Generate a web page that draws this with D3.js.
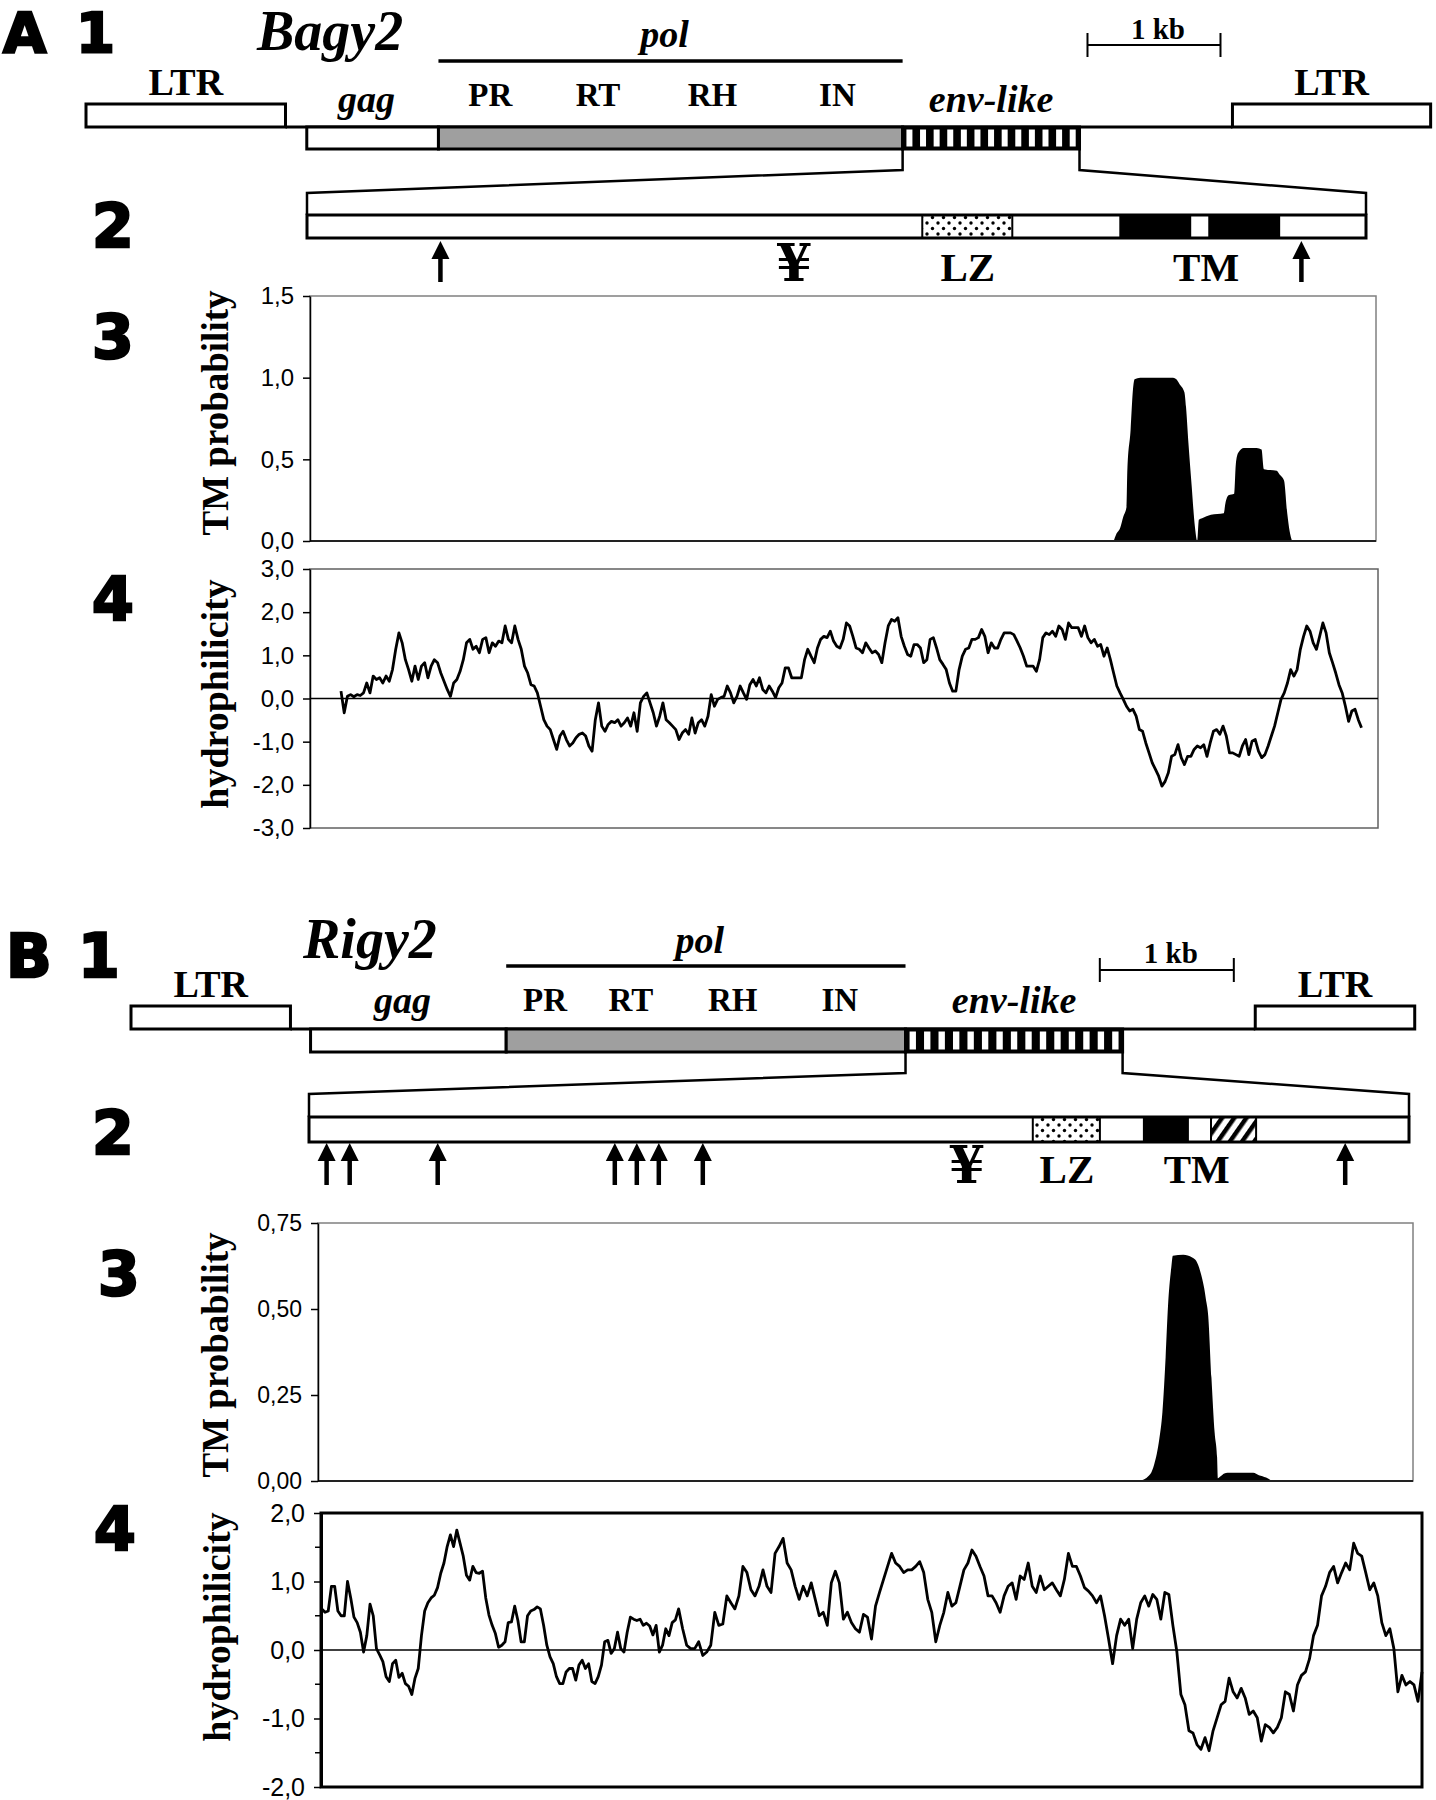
<!DOCTYPE html>
<html>
<head>
<meta charset="utf-8">
<script src="https://cdn.jsdelivr.net/npm/d3@7"></script>
<style>
  body { margin: 0; background: #fff; }
  svg { display: block; }
</style>
</head>
<body>
<svg id="fig"></svg>
<script>
// ---------- data ----------
// genome map, in kb from the left end of the left LTR
var featNames = ["LTR", "gag", "pol", "env-like", "LTR"];
var featKinds = ["ltr", "orf", "pol", "env", "ltr"];
var featStartA = [0, 1.66, 2.65, 6.14, 8.62];
var featEndA = [1.50, 2.65, 6.14, 7.47, 10.11];
var featStartB = [0, 1.34, 2.80, 5.78, 8.39];
var featEndB = [1.19, 2.80, 5.78, 7.40, 9.58];
var polDomains = ["PR", "RT", "RH", "IN"];
var polDomainPosA = [3.04, 3.85, 4.71, 5.65];
var polDomainPosB = [3.09, 3.73, 4.49, 5.29];
var scaleBarA = [7.53, 8.53];
var scaleBarB = [7.23, 8.23];

// env-like protein map, as fraction of its length
var envFeatA = [["LZ", 0.581, 0.666, "dots"], ["TM", 0.768, 0.834, "solid"], ["TM", 0.852, 0.918, "solid"]];
var envFeatB = [["LZ", 0.658, 0.719, "dots"], ["TM", 0.759, 0.799, "solid"], ["TM", 0.820, 0.861, "hatch"]];
var envLabelsA = [["LZ", 0.624], ["TM", 0.849]];
var envLabelsB = [["LZ", 0.689], ["TM", 0.807]];
var yenA = 0.460, yenB = 0.598;
var arrowsA = [0.126, 0.939];
var arrowsB = [0.016, 0.037, 0.117, 0.278, 0.298, 0.318, 0.358, 0.942];

// TM probability, [position, probability]
var tmA = [[962, 0], [965, 0.04], [970, 0.08], [974, 0.15], [978, 0.21], [979, 0.44], [983, 0.68], [986, 0.93],
  [988, 0.99], [995, 1.0], [1036, 1.0], [1040, 0.99], [1044, 0.96], [1050, 0.91], [1052, 0.82], [1055, 0.6],
  [1059, 0.34], [1063, 0.09], [1066, 0], [1068, 0.13], [1072, 0.14], [1083, 0.16], [1099, 0.17], [1101, 0.23],
  [1105, 0.28], [1112, 0.29], [1114, 0.47], [1117, 0.54], [1124, 0.57], [1140, 0.57], [1146, 0.56], [1149, 0.44],
  [1165, 0.43], [1168, 0.41], [1174, 0.37], [1178, 0.17], [1181, 0.06], [1184, 0]];
var tmB = [[1018, 0], [1031, 0.02], [1036, 0.05], [1042, 0.12], [1046, 0.2], [1050, 0.36], [1053, 0.51],
  [1057, 0.62], [1059, 0.655], [1072, 0.658], [1083, 0.65], [1088, 0.64], [1093, 0.61], [1098, 0.56],
  [1100, 0.53], [1103, 0.48], [1107, 0.3], [1111, 0.14], [1114, 0.07], [1115, 0.008], [1118, 0.013],
  [1123, 0.022], [1127, 0.024], [1159, 0.024], [1166, 0.017], [1175, 0.01], [1182, 0]];

// hydrophilicity profiles, one value every step positions
var hydroAStart = 0, hydroAStep = 4;
var hydroA = [
  0.17, -0.33, 0.05, 0.09, 0.04, 0.09, 0.07, 0.13, 0.36, 0.13,
  0.52, 0.44, 0.48, 0.36, 0.52, 0.40, 0.67, 1.14, 1.52, 1.29,
  0.90, 0.67, 0.40, 0.75, 0.44, 0.75, 0.83, 0.48, 0.75, 0.90,
  0.83, 0.59, 0.40, 0.21, 0.05, 0.36, 0.44, 0.63, 0.90, 1.29,
  1.37, 1.14, 1.21, 1.06, 1.37, 1.41, 1.06, 1.29, 1.21, 1.33,
  1.29, 1.68, 1.37, 1.29, 1.68, 1.37, 1.14, 0.75, 0.59, 0.32,
  0.29, 0.13, -0.18, -0.49, -0.64, -0.72, -0.95, -1.18, -0.87, -0.76,
  -0.95, -1.10, -1.03, -0.91, -0.83, -0.80, -0.87, -1.10, -1.22, -0.49,
  -0.10, -0.64, -0.76, -0.60, -0.53, -0.56, -0.49, -0.64, -0.56, -0.45,
  -0.64, -0.33, -0.76, -0.10, 0.05, 0.13, -0.10, -0.33, -0.64, -0.41,
  -0.10, -0.49, -0.56, -0.64, -0.72, -0.95, -0.80, -0.72, -0.83, -0.45,
  -0.80, -0.56, -0.49, -0.64, -0.41, 0.09, -0.18, -0.02, 0.02, 0.05,
  0.29, 0.13, -0.10, 0.05, 0.29, 0.13, -0.02, 0.32, 0.44, 0.29,
  0.48, 0.21, 0.13, 0.29, 0.17, 0.02, 0.25, 0.36, 0.71, 0.71,
  0.48, 0.48, 0.48, 0.48, 0.90, 1.14, 0.98, 0.83, 1.17, 1.37,
  1.44, 1.41, 1.56, 1.33, 1.21, 1.17, 1.37, 1.75, 1.68, 1.44,
  1.17, 1.14, 1.06, 1.29, 1.17, 1.06, 1.10, 1.02, 0.83, 1.29,
  1.68, 1.83, 1.79, 1.87, 1.44, 1.21, 1.02, 0.98, 1.25, 1.25,
  1.17, 0.83, 0.90, 1.37, 1.41, 1.17, 0.90, 0.79, 0.67, 0.36,
  0.17, 0.17, 0.67, 0.98, 1.14, 1.17, 1.37, 1.37, 1.41, 1.60,
  1.44, 1.06, 1.29, 1.17, 1.17, 1.37, 1.52, 1.52, 1.52, 1.48,
  1.33, 1.17, 0.98, 0.75, 0.75, 0.75, 0.63, 0.90, 1.41, 1.52,
  1.48, 1.56, 1.44, 1.68, 1.60, 1.37, 1.75, 1.64, 1.64, 1.64,
  1.44, 1.68, 1.41, 1.29, 1.37, 1.21, 1.25, 0.98, 1.17, 0.90,
  0.59, 0.29, 0.13, -0.02, -0.18, -0.29, -0.25, -0.41, -0.72, -0.76,
  -1.03, -1.26, -1.49, -1.64, -1.80, -2.03, -1.92, -1.72, -1.34, -1.30,
  -1.07, -1.37, -1.53, -1.34, -1.34, -1.18, -1.10, -1.14, -1.07, -1.34,
  -1.03, -0.76, -0.72, -0.83, -0.64, -0.87, -1.26, -1.26, -1.30, -1.34,
  -1.10, -0.95, -1.30, -0.99, -0.95, -1.22, -1.37, -1.30, -1.10, -0.87,
  -0.64, -0.33, -0.02, 0.13, 0.36, 0.67, 0.52, 0.67, 1.14, 1.44,
  1.68, 1.56, 1.29, 1.14, 1.44, 1.75, 1.52, 1.06, 0.83, 0.59,
  0.32, 0.13, -0.18, -0.53, -0.29, -0.25, -0.49, -0.68
];
var hydroB1Start = 0, hydroB1Step = 4;
var hydroB1 = [
  0.60, 0.55, 0.57, 0.93, 0.93, 0.57, 0.50, 0.50, 1.00, 0.76,
  0.48, 0.40, 0.26, -0.03, 0.21, 0.67, 0.50, 0.02, -0.07, -0.17,
  -0.39, -0.46, -0.20, -0.15, -0.40, -0.34, -0.49, -0.53, -0.65, -0.41,
  -0.27, 0.21, 0.57, 0.69, 0.76, 0.80, 0.91, 1.12, 1.27, 1.51,
  1.68, 1.51, 1.75, 1.56, 1.37, 1.09, 1.02, 1.22, 1.13, 1.12,
  1.15, 0.76, 0.51, 0.36, 0.24, 0.04, 0.07, 0.12, 0.40, 0.41,
  0.64, 0.43, 0.12, 0.12, 0.50, 0.57, 0.59, 0.63, 0.60, 0.36,
  0.07, -0.10, -0.20, -0.39, -0.49, -0.49, -0.32, -0.27, -0.27, -0.44,
  -0.22, -0.15, -0.27, -0.20, -0.46, -0.49, -0.39, -0.22, 0.12, 0.14,
  -0.05, 0.02, 0.26, 0.02, -0.03, 0.26, 0.48, 0.45, 0.43, 0.45,
  0.36, 0.39, 0.35, 0.22, 0.36, -0.03, 0.07, 0.31, 0.21, 0.40,
  0.44, 0.60
];
var hydroB2Start = 449, hydroB2Step = 5;
var hydroB2 = [
  0.31, 0.07, 0.02, 0.02, 0.12, -0.08, -0.03, 0.07, 0.55, 0.36,
  0.38, 0.79, 0.69, 0.60, 0.79, 1.22, 1.13, 0.88, 0.79, 0.93,
  1.17, 0.93, 0.84, 1.41, 1.51, 1.63, 1.27, 1.17, 0.93, 0.74,
  0.93, 0.79, 0.98, 0.74, 0.50, 0.55, 0.36, 0.98, 1.15, 0.98,
  0.45, 0.55, 0.40, 0.31, 0.26, 0.52, 0.48, 0.16, 0.64, 0.84,
  1.03, 1.22, 1.41, 1.27, 1.22, 1.13, 1.17, 1.17, 1.22, 1.29,
  1.13, 0.74, 0.55, 0.12, 0.36, 0.55, 0.84, 0.64, 0.69, 0.93,
  1.17, 1.27, 1.46, 1.37, 1.22, 1.08, 0.79, 0.79, 0.69, 0.55,
  0.79, 0.93, 0.98, 0.74, 1.08, 1.03, 1.27, 0.93, 0.84, 1.08,
  0.88, 0.93, 0.98, 0.88, 0.79, 1.03, 1.41, 1.22, 1.22, 1.08,
  0.91, 0.86, 0.79, 0.69, 0.79, 0.50, 0.16, -0.20, 0.21, 0.45,
  0.36, 0.45, 0.02, 0.45, 0.69, 0.79, 0.64, 0.81, 0.74, 0.45,
  0.84, 0.81, 0.36, -0.03, -0.65, -0.80, -1.18, -1.21, -1.38, -1.45,
  -1.28, -1.47, -1.18, -0.99, -0.80, -0.75, -0.41, -0.61, -0.70, -0.56,
  -0.70, -0.94, -0.89, -0.99, -1.33, -1.09, -1.13, -1.21, -1.13, -0.99,
  -0.61, -0.65, -0.89, -0.51, -0.37, -0.32, -0.13, 0.21, 0.36, 0.79,
  0.93, 1.13, 1.22, 0.98, 1.13, 1.27, 1.17, 1.56, 1.41, 1.37,
  1.13, 0.88, 0.98, 0.79, 0.40, 0.21, 0.31, 0.02, -0.61, -0.37,
  -0.51, -0.46, -0.51, -0.75, -0.32
];

var tmTicksA = [0, 0.5, 1.0, 1.5];
var tmTicksB = [0, 0.25, 0.5, 0.75];
var hydroTicksA = [-3, -2, -1, 0, 1, 2, 3];
var hydroTicksB = [-2, -1, 0, 1, 2];
var hydroMinorB = [-1.5, -0.5, 0.5, 1.5];

// ---------- drawing ----------
var serif = "'Liberation Serif', 'Times New Roman', serif";
var sans = "'Liberation Sans', Arial, sans-serif";
var heavy = "'DejaVu Sans', sans-serif";

var svg = d3.select("#fig").attr("width", 1436).attr("height", 1800);
svg.append("rect").attr("width", 1436).attr("height", 1800).attr("fill", "#fff");

var defs = svg.append("defs");
var dots = defs.append("pattern").attr("id", "dots")
  .attr("patternUnits", "userSpaceOnUse").attr("width", 11).attr("height", 11);
dots.append("rect").attr("width", 11).attr("height", 11).attr("fill", "#fff");
dots.append("circle").attr("cx", 3).attr("cy", 3).attr("r", 1.7).attr("fill", "#000");
dots.append("circle").attr("cx", 8.5).attr("cy", 8.5).attr("r", 1.7).attr("fill", "#000");
var hatch = defs.append("pattern").attr("id", "hatch")
  .attr("patternUnits", "userSpaceOnUse").attr("width", 10).attr("height", 10)
  .attr("patternTransform", "rotate(35)");
hatch.append("rect").attr("width", 10).attr("height", 10).attr("fill", "#fff");
hatch.append("rect").attr("width", 4.5).attr("height", 10).attr("fill", "#000");

function txt(g, x, y, s, size, opts) {
  opts = opts || {};
  return g.append("text")
    .attr("x", x).attr("y", y)
    .attr("font-family", opts.family || serif)
    .attr("font-size", size)
    .attr("font-weight", opts.weight || "bold")
    .attr("font-style", opts.italic ? "italic" : "normal")
    .attr("text-anchor", opts.anchor || "middle")
    .attr("fill", "#000")
    .text(s);
}

function bigLabel(x, y, s, size) {
  txt(svg, x, y, s, size || 60, { family: heavy, anchor: "start" })
    .attr("stroke", "#000").attr("stroke-width", 2.5);
}

function upArrow(g, x, yTip, yBot) {
  g.append("line").attr("x1", x).attr("x2", x).attr("y1", yTip + 12).attr("y2", yBot)
    .attr("stroke", "#000").attr("stroke-width", 4.5);
  g.append("path")
    .attr("d", d3.line()([[x, yTip], [x - 9, yTip + 18], [x + 9, yTip + 18]]) + "Z")
    .attr("fill", "#000");
}

function drawMap(p) {
  var g = svg.append("g");
  var kb = d3.scaleLinear().domain([0, 1]).range([p.origin, p.origin + p.pxPerKb]);
  var lw = 3;

  // title
  txt(g, p.titleX, p.titleY, p.title, 56, { italic: true, anchor: "start" });

  // pol bracket
  var polI = featKinds.indexOf("pol");
  g.append("line").attr("x1", kb(p.starts[polI])).attr("x2", kb(p.ends[polI]))
    .attr("y1", p.yPolLine).attr("y2", p.yPolLine).attr("stroke", "#000").attr("stroke-width", 3.5);
  txt(g, (kb(p.starts[polI]) + kb(p.ends[polI])) / 2 - 6, p.yPolText, "pol", 38, { italic: true });

  // scale bar
  var b0 = kb(p.bar[0]), b1 = kb(p.bar[1]);
  g.append("path")
    .attr("d", "M" + b0 + "," + (p.yBar - 12) + "V" + (p.yBar + 12) + "M" + b0 + "," + p.yBar +
      "H" + b1 + "M" + b1 + "," + (p.yBar - 12) + "V" + (p.yBar + 12))
    .attr("fill", "none").attr("stroke", "#000").attr("stroke-width", 2);
  txt(g, (b0 + b1) / 2 + 4, p.yBarText, "1 kb", 29);

  // backbone
  g.append("line").attr("x1", kb(p.ends[0])).attr("x2", kb(p.starts[4]))
    .attr("y1", p.yBack).attr("y2", p.yBack).attr("stroke", "#000").attr("stroke-width", lw);

  featKinds.forEach(function (k, i) {
    var x0 = kb(p.starts[i]), x1 = kb(p.ends[i]);
    var top = k === "ltr" ? p.yLtr : p.yBack;
    var bot = k === "ltr" ? p.yBack : p.yOrf;
    if (k === "env") {
      g.append("rect").attr("x", x0).attr("y", top).attr("width", x1 - x0).attr("height", bot - top)
        .attr("fill", "#000");
      var per = (x1 - x0) / p.stripes;
      d3.range(p.stripes).forEach(function (j) {
        g.append("rect").attr("x", x0 + (j + 0.5) * per - per * 0.22).attr("y", top + lw / 2 + 1)
          .attr("width", per * 0.44).attr("height", bot - top - lw - 2).attr("fill", "#fff");
      });
      g.append("rect").attr("x", x0).attr("y", top).attr("width", x1 - x0).attr("height", bot - top)
        .attr("fill", "none").attr("stroke", "#000").attr("stroke-width", lw);
    } else {
      g.append("rect").attr("x", x0).attr("y", top).attr("width", x1 - x0).attr("height", bot - top)
        .attr("fill", k === "pol" ? "#9f9f9f" : "#fff").attr("stroke", "#000").attr("stroke-width", lw);
    }
    if (k === "ltr") txt(g, (x0 + x1) / 2, p.yLtrText, featNames[i], 38);
    if (k === "orf") txt(g, (x0 + x1) / 2 - 6, p.yOrfText, featNames[i], 38, { italic: true });
    if (k === "env") txt(g, (x0 + x1) / 2, p.yOrfText, featNames[i], 38, { italic: true });
  });

  polDomains.forEach(function (d, i) {
    txt(g, kb(p.domPos[i]), p.yDomText, d, 33);
  });

  // expansion of the env-like region
  var envI = featKinds.indexOf("env");
  var e0 = kb(p.starts[envI]), e1 = kb(p.ends[envI]);
  var ex = d3.scaleLinear().domain([0, 1]).range([p.boxLeft, p.boxRight]);
  var line = d3.line();
  g.append("path")
    .attr("d", line([[e0, p.yOrf], [e0, p.yExpMid], [ex(0), p.yExpEnd], [ex(0), p.yBoxTop]]))
    .attr("fill", "none").attr("stroke", "#000").attr("stroke-width", 2.5);
  g.append("path")
    .attr("d", line([[e1, p.yOrf], [e1, p.yExpMid], [ex(1), p.yExpEnd], [ex(1), p.yBoxTop]]))
    .attr("fill", "none").attr("stroke", "#000").attr("stroke-width", 2.5);

  g.append("rect").attr("x", ex(0)).attr("y", p.yBoxTop).attr("width", ex(1) - ex(0))
    .attr("height", p.yBoxBot - p.yBoxTop).attr("fill", "#fff");
  p.envFeat.forEach(function (f) {
    var fill = f[3] === "dots" ? "url(#dots)" : f[3] === "hatch" ? "url(#hatch)" : "#000";
    g.append("rect").attr("x", ex(f[1])).attr("y", p.yBoxTop).attr("width", ex(f[2]) - ex(f[1]))
      .attr("height", p.yBoxBot - p.yBoxTop).attr("fill", fill)
      .attr("stroke", "#000").attr("stroke-width", 2);
  });
  g.append("rect").attr("x", ex(0)).attr("y", p.yBoxTop).attr("width", ex(1) - ex(0))
    .attr("height", p.yBoxBot - p.yBoxTop).attr("fill", "none")
    .attr("stroke", "#000").attr("stroke-width", lw);

  p.arrows.forEach(function (a) { upArrow(g, ex(a), p.yArrowTip, p.yArrowBot); });
  p.envLabels.forEach(function (l) { txt(g, ex(l[1]), p.yEnvText, l[0], 41); });
  txt(g, ex(p.yen), p.yEnvText, "\u00A5", 52).attr("font-family", "'DejaVu Serif', serif");
}

drawMap({
  title: "Bagy2", titleX: 257, titleY: 50,
  origin: 86, pxPerKb: 133,
  starts: featStartA, ends: featEndA, domPos: polDomainPosA, bar: scaleBarA,
  yPolLine: 61, yPolText: 47, yBar: 45, yBarText: 39,
  yLtr: 104, yBack: 127, yOrf: 149, yLtrText: 95, yOrfText: 112, yDomText: 106,
  stripes: 13,
  boxLeft: 307, boxRight: 1366, yExpMid: 170, yExpEnd: 193, yBoxTop: 215, yBoxBot: 238,
  envFeat: envFeatA, envLabels: envLabelsA, arrows: arrowsA, yen: yenA,
  yArrowTip: 241, yArrowBot: 282, yEnvText: 281
});

drawMap({
  title: "Rigy2", titleX: 303, titleY: 958,
  origin: 131, pxPerKb: 134,
  starts: featStartB, ends: featEndB, domPos: polDomainPosB, bar: scaleBarB,
  yPolLine: 966, yPolText: 953, yBar: 970, yBarText: 963,
  yLtr: 1006, yBack: 1029, yOrf: 1052, yLtrText: 997, yOrfText: 1013, yDomText: 1011,
  stripes: 15,
  boxLeft: 309, boxRight: 1409, yExpMid: 1073, yExpEnd: 1094, yBoxTop: 1117, yBoxBot: 1142,
  envFeat: envFeatB, envLabels: envLabelsB, arrows: arrowsB, yen: yenB,
  yArrowTip: 1143, yArrowBot: 1185, yEnvText: 1183
});

// panel numbers
bigLabel(3, 52, "A", 56); bigLabel(76, 52, "1", 56);
bigLabel(92, 247, "2"); bigLabel(92, 358, "3"); bigLabel(92, 620, "4");
bigLabel(6, 977, "B"); bigLabel(78, 977, "1");
bigLabel(92, 1154, "2"); bigLabel(98, 1295, "3"); bigLabel(94, 1550, "4");

// ---------- charts ----------
function commaFmt(digits) {
  var f = d3.format("." + digits + "f");
  return function (d) { return f(d).replace(".", ",").replace("\u2212", "-"); };
}

function drawChart(c) {
  var g = svg.append("g");
  var x = d3.scaleLinear().domain(c.xDomain).range([c.left, c.right]);
  var y = d3.scaleLinear().domain(c.yDomain).range([c.bottom, c.top]);

  // plot frame
  g.append("rect").attr("x", c.left).attr("y", c.top)
    .attr("width", c.right - c.left).attr("height", c.bottom - c.top)
    .attr("fill", "none").attr("stroke", c.frameColor).attr("stroke-width", c.frameWidth);

  if (c.kind === "area") {
    g.append("path").datum(c.data)
      .attr("d", d3.area().x(function (d) { return x(d[0]); })
        .y0(y(0)).y1(function (d) { return y(d[1]); }).curve(d3.curveMonotoneX))
      .attr("fill", "#000");
    g.append("line").attr("x1", c.left).attr("x2", c.right)
      .attr("y1", c.bottom).attr("y2", c.bottom).attr("stroke", "#222").attr("stroke-width", 1.8);
  } else {
    g.append("line").attr("x1", c.left).attr("x2", c.right)
      .attr("y1", y(0)).attr("y2", y(0)).attr("stroke", "#000").attr("stroke-width", 1.5);
    g.append("path").datum(c.data)
      .attr("d", d3.line().x(function (d) { return x(d[0]); }).y(function (d) { return y(d[1]); }))
      .attr("fill", "none").attr("stroke", "#000").attr("stroke-width", 2.8)
      .attr("stroke-linejoin", "round");
  }

  if (c.minor) {
    g.selectAll(".minor").data(c.minor).enter().append("line")
      .attr("x1", c.left - 6).attr("x2", c.left)
      .attr("y1", function (d) { return y(d); }).attr("y2", function (d) { return y(d); })
      .attr("stroke", "#000").attr("stroke-width", 1.5);
  }

  var ax = g.append("g").attr("transform", "translate(" + c.left + ",0)")
    .call(d3.axisLeft(y).tickValues(c.ticks).tickFormat(commaFmt(c.digits))
      .tickSize(7).tickSizeOuter(0).tickPadding(c.pad));
  ax.attr("font-family", sans).attr("font-size", c.fontSize);
  ax.select(".domain").attr("stroke", "#000").attr("stroke-width", c.axisWidth);
  ax.selectAll(".tick line").attr("stroke", "#000").attr("stroke-width", 1.5);
  ax.selectAll(".tick text").attr("fill", "#000");

  txt(g, 0, 0, c.title, c.titleSize).attr("transform", "translate(" + c.titleX + "," + c.titleY + ") rotate(-90)");
}

function pts(values, start, step) {
  return values.map(function (v, i) { return [start + i * step, v]; });
}

drawChart({
  kind: "area", data: tmA, title: "TM probability", titleX: 228, titleY: 413, titleSize: 37,
  left: 310, right: 1376, top: 296, bottom: 541,
  xDomain: [-38.5, 1288.5], yDomain: [0, 1.5], ticks: tmTicksA, digits: 1,
  fontSize: 24, pad: 9, frameColor: "#808080", frameWidth: 1.5, axisWidth: 1.5
});
drawChart({
  kind: "line", data: pts(hydroA, hydroAStart, hydroAStep), title: "hydrophilicity",
  titleX: 228, titleY: 694, titleSize: 38,
  left: 310, right: 1378, top: 569, bottom: 828,
  xDomain: [-38.5, 1288.5], yDomain: [-3, 3], ticks: hydroTicksA, digits: 1,
  fontSize: 24, pad: 9, frameColor: "#606060", frameWidth: 1.5, axisWidth: 1.5
});
drawChart({
  kind: "area", data: tmB, title: "TM probability", titleX: 228, titleY: 1355, titleSize: 37,
  left: 318, right: 1413, top: 1223, bottom: 1481,
  xDomain: [-4.3, 1357.7], yDomain: [0, 0.75], ticks: tmTicksB, digits: 2,
  fontSize: 23, pad: 9, frameColor: "#808080", frameWidth: 1.5, axisWidth: 1.5
});
drawChart({
  kind: "line", data: pts(hydroB1, hydroB1Start, hydroB1Step).concat(pts(hydroB2, hydroB2Start, hydroB2Step)),
  title: "hydrophilicity", titleX: 230, titleY: 1627, titleSize: 38,
  left: 321, right: 1422, top: 1513, bottom: 1787,
  xDomain: [-1, 1369], yDomain: [-2, 2], ticks: hydroTicksB, digits: 1, minor: hydroMinorB,
  fontSize: 25, pad: 9, frameColor: "#000", frameWidth: 3, axisWidth: 3
});
</script>
</body>
</html>
